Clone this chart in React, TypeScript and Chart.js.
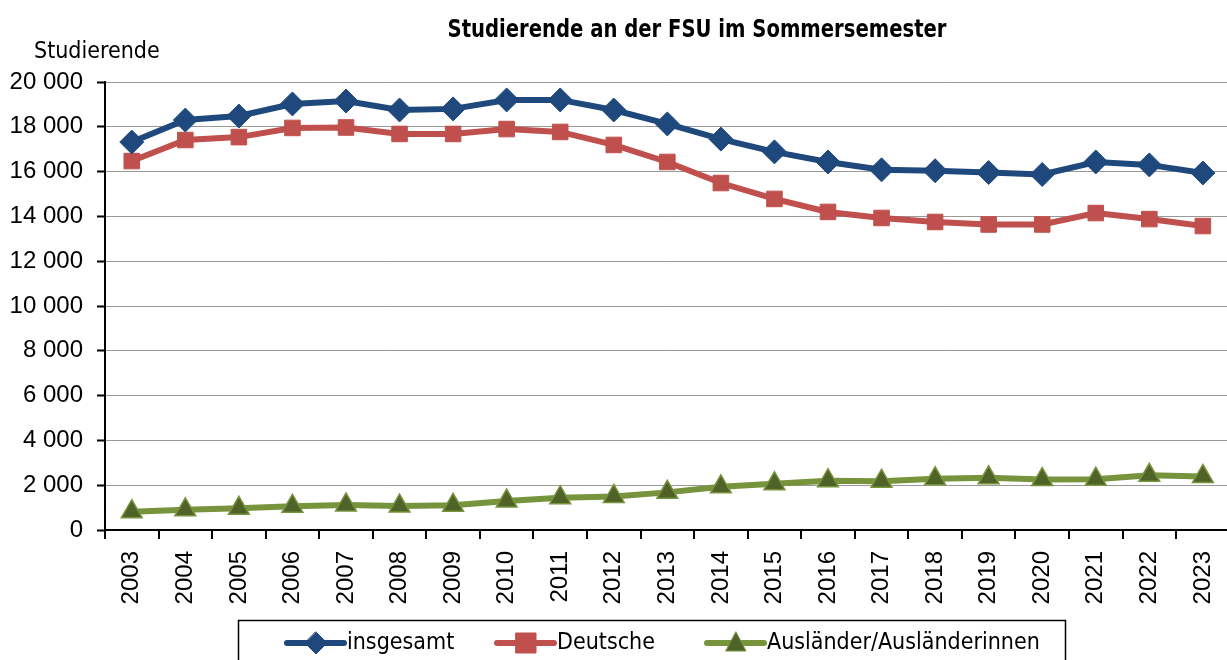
import React, { useEffect, useRef } from "react";
import { Chart, registerables } from "chart.js";

Chart.register(...registerables);

const years = ["2003","2004","2005","2006","2007","2008","2009","2010","2011","2012","2013","2014","2015","2016","2017","2018","2019","2020","2021","2022","2023"];
const insgesamt = [17320,18300,18480,19020,19150,18750,18800,19200,19200,18750,18130,17450,16880,16430,16080,16040,15960,15870,16430,16300,15940];
const deutsche = [16470,17410,17540,17950,17970,17680,17680,17900,17770,17190,16430,15490,14780,14200,13930,13750,13640,13640,14150,13880,13570];
const auslaender = [820,900,970,1060,1120,1070,1100,1290,1440,1500,1680,1930,2070,2200,2180,2290,2330,2250,2270,2440,2390];
const yTicks = [0,2000,4000,6000,8000,10000,12000,14000,16000,18000,20000];

const titleText = "Studierende an der FSU im Sommersemester";
const yTitle = "Studierende";

const BLUE = "#1F497D";
const RED = "#C0504D";
const GREEN = "#77933C";
const GREEN_DARK = "#4F6228";

const condensed = "'DejaVu Sans Condensed', sans-serif";
const narrow = "'Liberation Sans Narrow', 'DejaVu Sans Condensed', sans-serif";
const tickFont = "'Liberation Sans', Arial, sans-serif";

Chart.defaults.font.family = tickFont;
Chart.defaults.font.size = 24;
Chart.defaults.color = "#000";

const fmt = (v: number) => {
  const s = String(Math.round(v));
  return s.replace(/\B(?=(\d{3})+(?!\d))/g, " ");
};

const decorPlugin = {
  id: "decor",
  afterDraw(chart: any) {
    const ctx = chart.ctx as CanvasRenderingContext2D;
    ctx.save();
    ctx.fillStyle = "#000";
    ctx.font = `bold 25px ${narrow}`;
    ctx.textAlign = "center";
    ctx.textBaseline = "middle";
    ctx.fillText(titleText, 697, 30, 499);
    ctx.font = `23px ${condensed}`;
    ctx.textAlign = "left";
    ctx.fillText(yTitle, 34, 52);
    ctx.strokeStyle = "#000";
    ctx.lineWidth = 1.5;
    ctx.strokeRect(238.5, 620.5, 827, 60);
    const items = [
      { label: "insgesamt", color: BLUE, fill: BLUE, style: "rectRot", x: 287 },
      { label: "Deutsche", color: RED, fill: RED, style: "rect", x: 497 },
      { label: "Ausländer/Ausländerinnen", color: GREEN, fill: GREEN_DARK, style: "triangle", x: 707 },
    ];
    const cy = 643;
    ctx.font = `23px ${condensed}`;
    items.forEach((it) => {
      ctx.strokeStyle = it.color;
      ctx.lineWidth = 6;
      ctx.lineCap = "round";
      ctx.beginPath();
      ctx.moveTo(it.x, cy);
      ctx.lineTo(it.x + 57, cy);
      ctx.stroke();
      ctx.fillStyle = it.fill;
      ctx.strokeStyle = it.color;
      ctx.lineWidth = 1;
      const mx = it.x + 29;
      ctx.beginPath();
      if (it.style === "rectRot") {
        ctx.moveTo(mx, cy - 11); ctx.lineTo(mx + 11, cy); ctx.lineTo(mx, cy + 11); ctx.lineTo(mx - 11, cy); ctx.closePath();
      } else if (it.style === "rect") {
        ctx.rect(mx - 10, cy - 10, 20, 20);
      } else {
        ctx.moveTo(mx, cy - 11); ctx.lineTo(mx + 10, cy + 8); ctx.lineTo(mx - 10, cy + 8); ctx.closePath();
      }
      ctx.fill();
      ctx.stroke();
      ctx.fillStyle = "#000";
      ctx.textAlign = "left";
      ctx.textBaseline = "middle";
      ctx.fillText(it.label, it.x + 60, cy);
    });
    ctx.restore();
  },
};

export default function App() {
  const ref = useRef<HTMLCanvasElement | null>(null);
  useEffect(() => {
    document.body.style.margin = "0";
    const chart = new Chart(ref.current!, {
      type: "line",
      data: {
        labels: years,
        datasets: [
          {
            label: "insgesamt",
            data: insgesamt,
            borderColor: BLUE,
            backgroundColor: BLUE,
            borderWidth: 6,
            pointStyle: "rectRot",
            pointRadius: 12,
            pointBackgroundColor: BLUE,
            pointBorderColor: BLUE,
            pointBorderWidth: 1,
            tension: 0,
          },
          {
            label: "Deutsche",
            data: deutsche,
            borderColor: RED,
            backgroundColor: RED,
            borderWidth: 6,
            pointStyle: "rect",
            pointRadius: 11,
            pointBackgroundColor: RED,
            pointBorderColor: RED,
            pointBorderWidth: 1,
            tension: 0,
          },
          {
            label: "Ausländer/Ausländerinnen",
            data: auslaender,
            borderColor: GREEN,
            backgroundColor: GREEN_DARK,
            borderWidth: 6,
            pointStyle: "triangle",
            pointRadius: 12,
            pointBackgroundColor: GREEN_DARK,
            pointBorderColor: GREEN,
            pointBorderWidth: 1.5,
            tension: 0,
          },
        ],
      },
      options: {
        responsive: false,
        animation: false,
        layout: { padding: { top: 82, right: 0, left: 0, bottom: 50 } },
        plugins: {
          legend: { display: false },
          title: { display: false },
          tooltip: { enabled: false },
        },
        scales: {
          x: {
            offset: true,
            grid: {
              offset: true,
              drawOnChartArea: false,
              drawTicks: true,
              tickLength: 9,
              color: "#000",
              lineWidth: 2,
            },
            border: { color: "#000", width: 2 },
            ticks: {
              color: "#000",
              font: { family: tickFont, size: 24 },
              maxRotation: 90,
              minRotation: 90,
              autoSkip: false,
              padding: 12,
            },
            afterFit(scale: any) {
              scale.height = 80;
            },
          },
          y: {
            min: 0,
            max: 20000,
            afterBuildTicks(scale: any) {
              scale.ticks = yTicks.map((v) => ({ value: v }));
            },
            grid: {
              color: "#999",
              lineWidth: 1,
              tickColor: "#000",
              tickLength: 8,
              tickWidth: 2,
            },
            border: { color: "#000", width: 2 },
            ticks: {
              color: "#000",
              font: { family: tickFont, size: 24 },
              padding: 14,
              callback: (v: any) => fmt(Number(v)),
            },
            afterFit(scale: any) {
              scale.width = 105;
            },
          },
        },
      },
      plugins: [decorPlugin],
    });
    return () => chart.destroy();
  }, []);
  return (
    <div style={{ width: 1227, height: 660, overflow: "hidden" }}>
      <canvas ref={ref} width={1244} height={660} style={{ display: "block" }} />
    </div>
  );
}
